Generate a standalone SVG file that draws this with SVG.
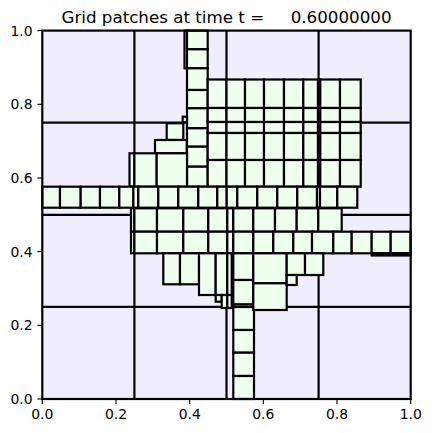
<svg xmlns="http://www.w3.org/2000/svg" width="432" height="433" viewBox="0 0 432 433">
<style>
.l2 rect{fill:#eeffee;stroke:#000;stroke-width:2.2}
.edge{stroke:#000;stroke-width:2.2;fill:none}
.tick{stroke:#000;stroke-width:1.1}
text{font-family:"DejaVu Sans",sans-serif;fill:#000}
.tl{font-size:13.9px}
</style>
<rect x="0" y="0" width="432" height="433" fill="#fff"/>
<g id="level1">
<rect x="42.3" y="30.6" width="368.4" height="368.4" fill="#eeeeff"/>
<g class="edge">
<line x1="134.4" y1="30.6" x2="134.4" y2="399"/>
<line x1="226.5" y1="30.6" x2="226.5" y2="399"/>
<line x1="318.6" y1="30.6" x2="318.6" y2="399"/>
<line x1="42.3" y1="122.7" x2="410.7" y2="122.7"/>
<line x1="42.3" y1="214.8" x2="410.7" y2="214.8"/>
<line x1="42.3" y1="306.9" x2="410.7" y2="306.9"/>
</g>
</g>
<g id="level2" class="l2">
<!-- top column -->
<rect x="184.5" y="30.6" width="3" height="37.7"/>
<rect x="187" y="30.6" width="20.7" height="18.7"/>
<rect x="187" y="49.3" width="20.7" height="19"/>
<rect x="187" y="68.3" width="20.7" height="21.7"/>
<rect x="187" y="90" width="20.7" height="18.3"/>
<rect x="187" y="108.3" width="20.7" height="20"/>
<rect x="187" y="128.3" width="20.7" height="18.4"/>
<rect x="187" y="146.7" width="20.7" height="20"/>
<rect x="187" y="166.7" width="20.7" height="20"/>
<!-- small left boxes -->
<rect x="182.7" y="116.7" width="4.3" height="5.5"/>
<rect x="166.7" y="123.3" width="16.6" height="16.7"/>
<rect x="155" y="140" width="31.7" height="13.3"/>
<rect x="129.5" y="153.3" width="4.9" height="33.4"/>
<rect x="134.4" y="153.3" width="22.3" height="33.4"/>
<rect x="156.7" y="153.3" width="30.3" height="33.4"/>
<!-- upper block -->
<rect x="207.7" y="79.5" width="18.8" height="28.5"/><rect x="226.5" y="79.5" width="18.5" height="28.5"/><rect x="245" y="79.5" width="19" height="28.5"/><rect x="264" y="79.5" width="20" height="28.5"/><rect x="284" y="79.5" width="19.3" height="28.5"/><rect x="303.3" y="79.5" width="14.7" height="28.5"/><rect x="318" y="79.5" width="2.3" height="28.5"/><rect x="320.3" y="79.5" width="19.7" height="28.5"/><rect x="340" y="79.5" width="20.7" height="28.5"/>
<rect x="207.7" y="108" width="18.8" height="14"/><rect x="226.5" y="108" width="18.5" height="14"/><rect x="245" y="108" width="19" height="14"/><rect x="264" y="108" width="20" height="14"/><rect x="284" y="108" width="19.3" height="14"/><rect x="303.3" y="108" width="14.7" height="14"/><rect x="318" y="108" width="2.3" height="14"/><rect x="320.3" y="108" width="19.7" height="14"/><rect x="340" y="108" width="20.7" height="14"/>
<rect x="207.7" y="122" width="18.8" height="11"/><rect x="226.5" y="122" width="18.5" height="11"/><rect x="245" y="122" width="19" height="11"/><rect x="264" y="122" width="20" height="11"/><rect x="284" y="122" width="19.3" height="11"/><rect x="303.3" y="122" width="14.7" height="11"/><rect x="318" y="122" width="2.3" height="11"/><rect x="320.3" y="122" width="19.7" height="11"/><rect x="340" y="122" width="20.7" height="11"/>
<rect x="207.7" y="133" width="18.8" height="27"/><rect x="226.5" y="133" width="18.5" height="27"/><rect x="245" y="133" width="19" height="27"/><rect x="264" y="133" width="20" height="27"/><rect x="284" y="133" width="19.3" height="27"/><rect x="303.3" y="133" width="14.7" height="27"/><rect x="318" y="133" width="2.3" height="27"/><rect x="320.3" y="133" width="19.7" height="27"/><rect x="340" y="133" width="20.7" height="27"/>
<rect x="207.7" y="160" width="18.8" height="26.7"/><rect x="226.5" y="160" width="18.5" height="26.7"/><rect x="245" y="160" width="19" height="26.7"/><rect x="264" y="160" width="20" height="26.7"/><rect x="284" y="160" width="19.3" height="26.7"/><rect x="303.3" y="160" width="14.7" height="26.7"/><rect x="318" y="160" width="2.3" height="26.7"/><rect x="320.3" y="160" width="19.7" height="26.7"/><rect x="340" y="160" width="20.7" height="26.7"/>
<!-- band -->
<rect x="42.3" y="186.7" width="17.7" height="21"/><rect x="60" y="186.7" width="20.7" height="21"/><rect x="80.7" y="186.7" width="19.3" height="21"/><rect x="100" y="186.7" width="19.3" height="21"/><rect x="119.3" y="186.7" width="14.1" height="21"/><rect x="133.4" y="186.7" width="4.9" height="21"/><rect x="138.3" y="186.7" width="20" height="21"/><rect x="158.3" y="186.7" width="20" height="21"/><rect x="178.3" y="186.7" width="20" height="21"/><rect x="198.3" y="186.7" width="19" height="21"/><rect x="217.3" y="186.7" width="9.4" height="21"/><rect x="226.7" y="186.7" width="10.6" height="21"/><rect x="237.3" y="186.7" width="20" height="21"/><rect x="257.3" y="186.7" width="20" height="21"/><rect x="277.3" y="186.7" width="20" height="21"/><rect x="297.3" y="186.7" width="19.7" height="21"/><rect x="317" y="186.7" width="3" height="21"/><rect x="320" y="186.7" width="17.3" height="21"/><rect x="337.3" y="186.7" width="20" height="21"/>
<!-- lower block row 1 -->
<rect x="131" y="208.3" width="3.4" height="23.4"/><rect x="134.4" y="208.3" width="22.6" height="23.4"/><rect x="157" y="208.3" width="26.3" height="23.4"/><rect x="183.3" y="208.3" width="25" height="23.4"/><rect x="208.3" y="208.3" width="19" height="23.4"/><rect x="227.3" y="208.3" width="6" height="23.4"/><rect x="233.3" y="208.3" width="20" height="23.4"/><rect x="253.3" y="208.3" width="21.7" height="23.4"/><rect x="275" y="208.3" width="21.7" height="23.4"/><rect x="296.7" y="208.3" width="21.6" height="23.4"/><rect x="318.3" y="208.3" width="23.4" height="23.4"/>
<!-- lower block row 2 -->
<rect x="131" y="231.7" width="3.4" height="21.6"/><rect x="134.4" y="231.7" width="22.6" height="21.6"/><rect x="157" y="231.7" width="26.3" height="21.6"/><rect x="183.3" y="231.7" width="25" height="21.6"/><rect x="208.3" y="231.7" width="19" height="21.6"/><rect x="227.3" y="231.7" width="6" height="21.6"/><rect x="233.3" y="231.7" width="20" height="21.6"/><rect x="253.3" y="231.7" width="20" height="21.6"/><rect x="273.3" y="231.7" width="20" height="21.6"/><rect x="293.3" y="231.7" width="18.7" height="21.6"/><rect x="312" y="231.7" width="21.3" height="21.6"/><rect x="333.3" y="231.7" width="18.4" height="21.6"/><rect x="351.7" y="231.7" width="20" height="21.6"/><rect x="371.7" y="231.7" width="19" height="21.6"/><rect x="390.7" y="231.7" width="19.8" height="21.6"/>
<rect x="371.7" y="253.3" width="38.8" height="2.2"/>
<!-- lower rows -->
<rect x="163.3" y="253.3" width="16.7" height="31"/><rect x="180" y="253.3" width="19" height="31"/><rect x="199" y="253.3" width="16.7" height="41.7"/><rect x="215.7" y="253.3" width="11.6" height="41.7"/><rect x="227.3" y="253.3" width="4.4" height="41.7"/>
<rect x="215.7" y="295" width="6" height="6.7"/><rect x="221.7" y="295" width="5.6" height="13"/><rect x="227.3" y="295" width="4.4" height="13"/>
<rect x="233.3" y="253.3" width="20" height="26.7"/><rect x="233.3" y="280" width="20" height="24.5"/><rect x="233.3" y="304.5" width="20.7" height="2.5"/><rect x="233.3" y="307" width="20.7" height="23"/><rect x="233.3" y="330" width="20.7" height="22.7"/><rect x="233.3" y="352.7" width="20.7" height="23.3"/><rect x="233.3" y="376" width="20.7" height="23"/>
<rect x="253.3" y="253.3" width="33.4" height="30"/><rect x="253.3" y="283.3" width="33.4" height="26.7"/>
<rect x="286.7" y="253.3" width="18.3" height="21.7"/><rect x="305" y="253.3" width="18.3" height="21.7"/><rect x="286.7" y="275" width="10" height="10"/>
</g>
<rect id="frame" x="42.3" y="30.6" width="368.4" height="368.4" fill="none" stroke="#000" stroke-width="2.2"/>
<g id="axes">
<g class="tick">
<line x1="42.3" y1="399" x2="42.3" y2="403.9"/><line x1="116" y1="399" x2="116" y2="403.9"/><line x1="189.7" y1="399" x2="189.7" y2="403.9"/><line x1="263.3" y1="399" x2="263.3" y2="403.9"/><line x1="337" y1="399" x2="337" y2="403.9"/><line x1="410.7" y1="399" x2="410.7" y2="403.9"/>
<line x1="37.4" y1="399" x2="42.3" y2="399"/><line x1="37.4" y1="325.3" x2="42.3" y2="325.3"/><line x1="37.4" y1="251.6" x2="42.3" y2="251.6"/><line x1="37.4" y1="178" x2="42.3" y2="178"/><line x1="37.4" y1="104.3" x2="42.3" y2="104.3"/><line x1="37.4" y1="30.6" x2="42.3" y2="30.6"/>
</g>
<g class="tl" text-anchor="middle">
<text x="42.3" y="419">0.0</text><text x="116" y="419">0.2</text><text x="189.7" y="419">0.4</text><text x="263.3" y="419">0.6</text><text x="337" y="419">0.8</text><text x="410.7" y="419">1.0</text>
</g>
<g class="tl" text-anchor="end">
<text x="32.5" y="404">0.0</text><text x="32.5" y="330.3">0.2</text><text x="32.5" y="256.6">0.4</text><text x="32.5" y="183">0.6</text><text x="32.5" y="109.3">0.8</text><text x="32.5" y="35.6">1.0</text>
</g>
<text x="226.5" y="22.7" text-anchor="middle" font-size="16.7" style="white-space:pre">Grid patches at time t =     0.60000000</text>
</g>
</svg>
